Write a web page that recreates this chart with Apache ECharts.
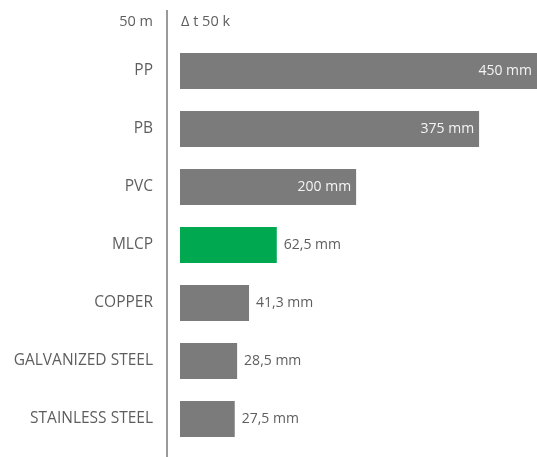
<!DOCTYPE html>
<html><head><meta charset="utf-8">
<script src="https://cdn.jsdelivr.net/npm/echarts@6/dist/echarts.min.js"></script>
<style>html,body{margin:0;padding:0;background:#fff}#c{width:537px;height:457px}</style>
</head><body><div id="c"></div>
<script>
// Categories, top to bottom
const categories = ['PP', 'PB', 'PVC', 'MLCP', 'COPPER', 'GALVANIZED STEEL', 'STAINLESS STEEL'];
// Thermal expansion over 50 m at Δt 50 K (mm) — the printed values
const expansionMm = [450, 375, 200, 62.5, 41.3, 28.5, 27.5];
// Bar lengths as drawn in the original infographic (not to scale) in PP-equivalent mm
const drawnLength = [450, 377, 222, 122, 87, 72, 69];
const highlight = 'MLCP';
const headerLeft = '50 m';
const headerRight = 'Δ t 50 k';

const GRAY = '#7b7b7c', GREEN = '#00a94f', TXT = '#5e5e5e';
const FONT = '"Open Sans"';
const fmt = v => String(v).replace('.', ',') + ' mm';
const insideCount = 3;

const chart = echarts.init(document.getElementById('c'), null, {renderer: 'canvas'});
chart.setOption({
  animation: false,
  textStyle: {fontFamily: FONT},
  grid: {left: 180, right: 0, top: 42, bottom: 9},
  xAxis: {type: 'value', min: 0, max: 450, show: false},
  yAxis: {
    type: 'category', data: categories, inverse: true,
    axisLine: {show: false}, axisTick: {show: false},
    axisLabel: {color: TXT, fontSize: 15.5, margin: 27, fontFamily: FONT}
  },
  graphic: [
    {type: 'line', shape: {x1: 167, y1: 10, x2: 167, y2: 457}, style: {stroke: '#9a9a9a', lineWidth: 2}},
    {type: 'text', x: 153, y: 22, style: {text: headerLeft, fill: TXT, font: '14.5px ' + FONT, align: 'right', verticalAlign: 'middle'}},
    {type: 'text', x: 181, y: 22, style: {text: headerRight, fill: TXT, font: '14.5px ' + FONT, align: 'left', verticalAlign: 'middle'}}
  ],
  series: [{
    type: 'bar', barWidth: 36,
    data: drawnLength.map((len, i) => ({
      value: len,
      itemStyle: {color: categories[i] === highlight ? GREEN : GRAY},
      label: i < insideCount
        ? {show: true, position: 'insideRight', distance: 5, color: '#f4f4f4', fontSize: 14, fontFamily: FONT, formatter: () => fmt(expansionMm[i])}
        : {show: true, position: 'right', distance: 7, color: TXT, fontSize: 14, fontFamily: FONT, formatter: () => fmt(expansionMm[i])}
    }))
  }]
});
</script></body></html>
